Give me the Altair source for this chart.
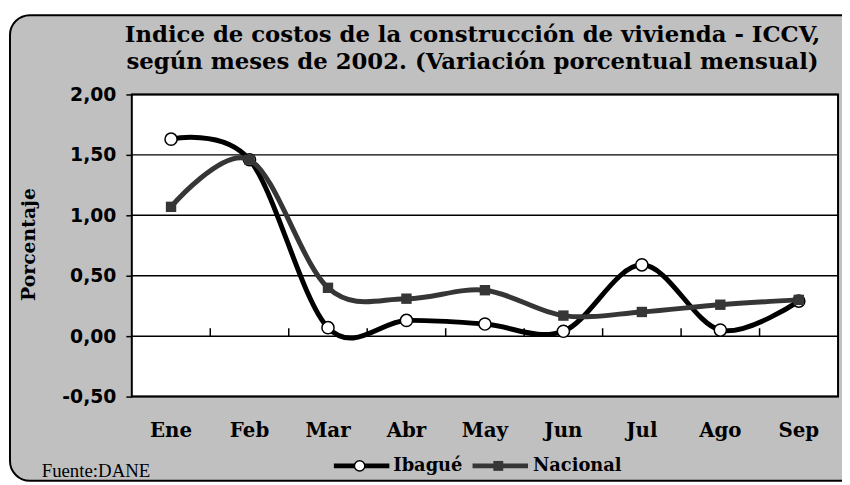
import altair as alt
import pandas as pd

# ---- data ----
months = ["Ene", "Feb", "Mar", "Abr", "May", "Jun", "Jul", "Ago", "Sep"]
ibague = [1.63, 1.46, 0.07, 0.13, 0.10, 0.04, 0.59, 0.05, 0.29]
nacional = [1.07, 1.46, 0.40, 0.31, 0.38, 0.17, 0.20, 0.26, 0.30]
series = ["Ibagué", "Nacional"]
y_ticks = [-0.5, 0.0, 0.5, 1.0, 1.5, 2.0]
title_lines = [
    "Indice de costos de la construcción de vivienda - ICCV,",
    "según meses de 2002. (Variación porcentual mensual)",
]
y_title = "Porcentaje"
source_note = "Fuente:DANE"

# ---- layout ----
W, H = 713, 305
BOX_GRAY = "#c0c0c0"
NAC_GRAY = "#363636"
SERIF = "DejaVu Serif"
CURVE = "cardinal"

df_i = pd.DataFrame({"mes": months, "valor": ibague})
df_n = pd.DataFrame({"mes": months, "valor": nacional})
grid_df = pd.DataFrame({"v": y_ticks})
tick_df = pd.DataFrame({"mes": months[1:]})
one = pd.DataFrame({"k": [0]})

x_scale = alt.Scale(domain=months, type="band", paddingInner=0, paddingOuter=0)
y_scale = alt.Scale(domain=[-0.5, 2.0], nice=False, zero=False)

# outer rounded gray box
box = alt.Chart(one).mark_rect(
    fill=BOX_GRAY, stroke="black", strokeWidth=2, cornerRadius=20
).encode(x=alt.value(-123), x2=alt.value(760), y=alt.value(-80), y2=alt.value(390))

# white plot area
plot_bg = alt.Chart(one).mark_rect(fill="white").encode(
    x=alt.value(0), x2=alt.value(W), y=alt.value(0), y2=alt.value(H)
)

# gridlines + y axis
grid = alt.Chart(grid_df).mark_rule(color="black", strokeWidth=1.5).encode(
    y=alt.Y(
        "v:Q",
        scale=y_scale,
        axis=alt.Axis(
            values=y_ticks,
            labelExpr="replace(replace(format(datum.value, '.2f'), '.', ','), '\u2212', '-')",
            labelFont="DejaVu Sans",
            labelFontWeight="bold",
            labelFontSize=19,
            labelColor="black",
            labelPadding=10,
            tickSize=6,
            tickColor="black",
            tickWidth=1.5,
            domain=False,
            grid=False,
            title=y_title,
            titleFont=SERIF,
            titleFontWeight="bold",
            titleFontSize=19,
            titleColor="black",
            titleX=-104,
            titleY=151,
            titleAngle=270,
            titleAlign="center",
            titleBaseline="middle",
            zindex=1,
        ),
    ),
    x=alt.value(0),
    x2=alt.value(W),
)

# small category-boundary ticks standing on the zero line
zero_ticks = alt.Chart(tick_df).mark_rule(color="black", strokeWidth=1.5).encode(
    x=alt.X("mes:N", scale=x_scale, bandPosition=0, axis=None),
    y=alt.Y(datum=0, scale=y_scale, axis=None),
    y2=alt.value(236),
)

bottom_axis = alt.Axis(
    orient="bottom",
    labelFont=SERIF,
    labelFontWeight="bold",
    labelFontSize=20,
    labelColor="black",
    labelAngle=0,
    labelPadding=24,
    ticks=False,
    domain=False,
    grid=False,
    title=None,
    zindex=1,
)

line_i = alt.Chart(df_i).mark_line(
    interpolate=CURVE, color="black", strokeWidth=5
).encode(
    x=alt.X("mes:N", scale=x_scale, bandPosition=0.5, axis=bottom_axis),
    y=alt.Y("valor:Q", scale=y_scale, axis=None),
)
pts_i = alt.Chart(df_i).mark_point(
    shape="circle", filled=True, fill="white", stroke="black", strokeWidth=1.5,
    size=150, opacity=1,
).encode(
    x=alt.X("mes:N", scale=x_scale, bandPosition=0.5, axis=None),
    y=alt.Y("valor:Q", scale=y_scale, axis=None),
)
line_n = alt.Chart(df_n).mark_line(
    interpolate=CURVE, color=NAC_GRAY, strokeWidth=5
).encode(
    x=alt.X("mes:N", scale=x_scale, bandPosition=0.5, axis=None),
    y=alt.Y("valor:Q", scale=y_scale, axis=None),
)
pts_n = alt.Chart(df_n).mark_point(
    shape="square", filled=True, color=NAC_GRAY, size=110, opacity=1
).encode(
    x=alt.X("mes:N", scale=x_scale, bandPosition=0.5, axis=None),
    y=alt.Y("valor:Q", scale=y_scale, axis=None),
)

frame = alt.Chart(one).mark_rect(
    fill="transparent", stroke="black", strokeWidth=2
).encode(x=alt.value(0), x2=alt.value(W), y=alt.value(0), y2=alt.value(H))

# title
t1 = alt.Chart(one).mark_text(
    font=SERIF, fontWeight="bold", fontSize=23, align="center",
    baseline="alphabetic", color="black",
).encode(x=alt.value(344), y=alt.value(-53), text=alt.value(title_lines[0]))
t2 = alt.Chart(one).mark_text(
    font=SERIF, fontWeight="bold", fontSize=23, align="center",
    baseline="alphabetic", color="black",
).encode(x=alt.value(344), y=alt.value(-26), text=alt.value(title_lines[1]))

# legend
LY = 375
leg_i_line = alt.Chart(one).mark_rule(color="black", strokeWidth=5).encode(
    x=alt.value(204), x2=alt.value(260), y=alt.value(LY)
)
leg_i_pt = alt.Chart(one).mark_point(
    shape="circle", filled=True, fill="white", stroke="black", strokeWidth=1.5,
    size=110, opacity=1,
).encode(x=alt.value(230), y=alt.value(LY))
leg_i_txt = alt.Chart(one).mark_text(
    font=SERIF, fontWeight="bold", fontSize=18, align="left", baseline="middle",
    color="black",
).encode(x=alt.value(264), y=alt.value(LY), text=alt.value(series[0]))
leg_n_line = alt.Chart(one).mark_rule(color=NAC_GRAY, strokeWidth=5).encode(
    x=alt.value(344), x2=alt.value(400), y=alt.value(LY)
)
leg_n_pt = alt.Chart(one).mark_point(
    shape="square", filled=True, color=NAC_GRAY, size=100, opacity=1
).encode(x=alt.value(370), y=alt.value(LY))
leg_n_txt = alt.Chart(one).mark_text(
    font=SERIF, fontWeight="bold", fontSize=18, align="left", baseline="middle",
    color="black",
).encode(x=alt.value(405), y=alt.value(LY), text=alt.value(series[1]))

fuente = alt.Chart(one).mark_text(
    font="Liberation Serif", fontSize=19, align="left", baseline="middle",
    color="black",
).encode(x=alt.value(-91), y=alt.value(380), text=alt.value(source_note))

chart = (
    alt.layer(
        box, plot_bg, grid, zero_ticks, line_i, pts_i, line_n, pts_n, frame,
        t1, t2, leg_i_line, leg_i_pt, leg_i_txt, leg_n_line, leg_n_pt, leg_n_txt,
        fuente,
    )
    .resolve_axis(x="independent", y="independent")
    .properties(
        width=W,
        height=H,
        padding={"left": 125, "top": 85, "right": 4, "bottom": 87},
        autosize=alt.AutoSizeParams(type="none"),
    )
    .configure(background="white")
    .configure_view(stroke="transparent")
)

chart.save("out.html", embed_options={"renderer": "svg", "actions": False})
